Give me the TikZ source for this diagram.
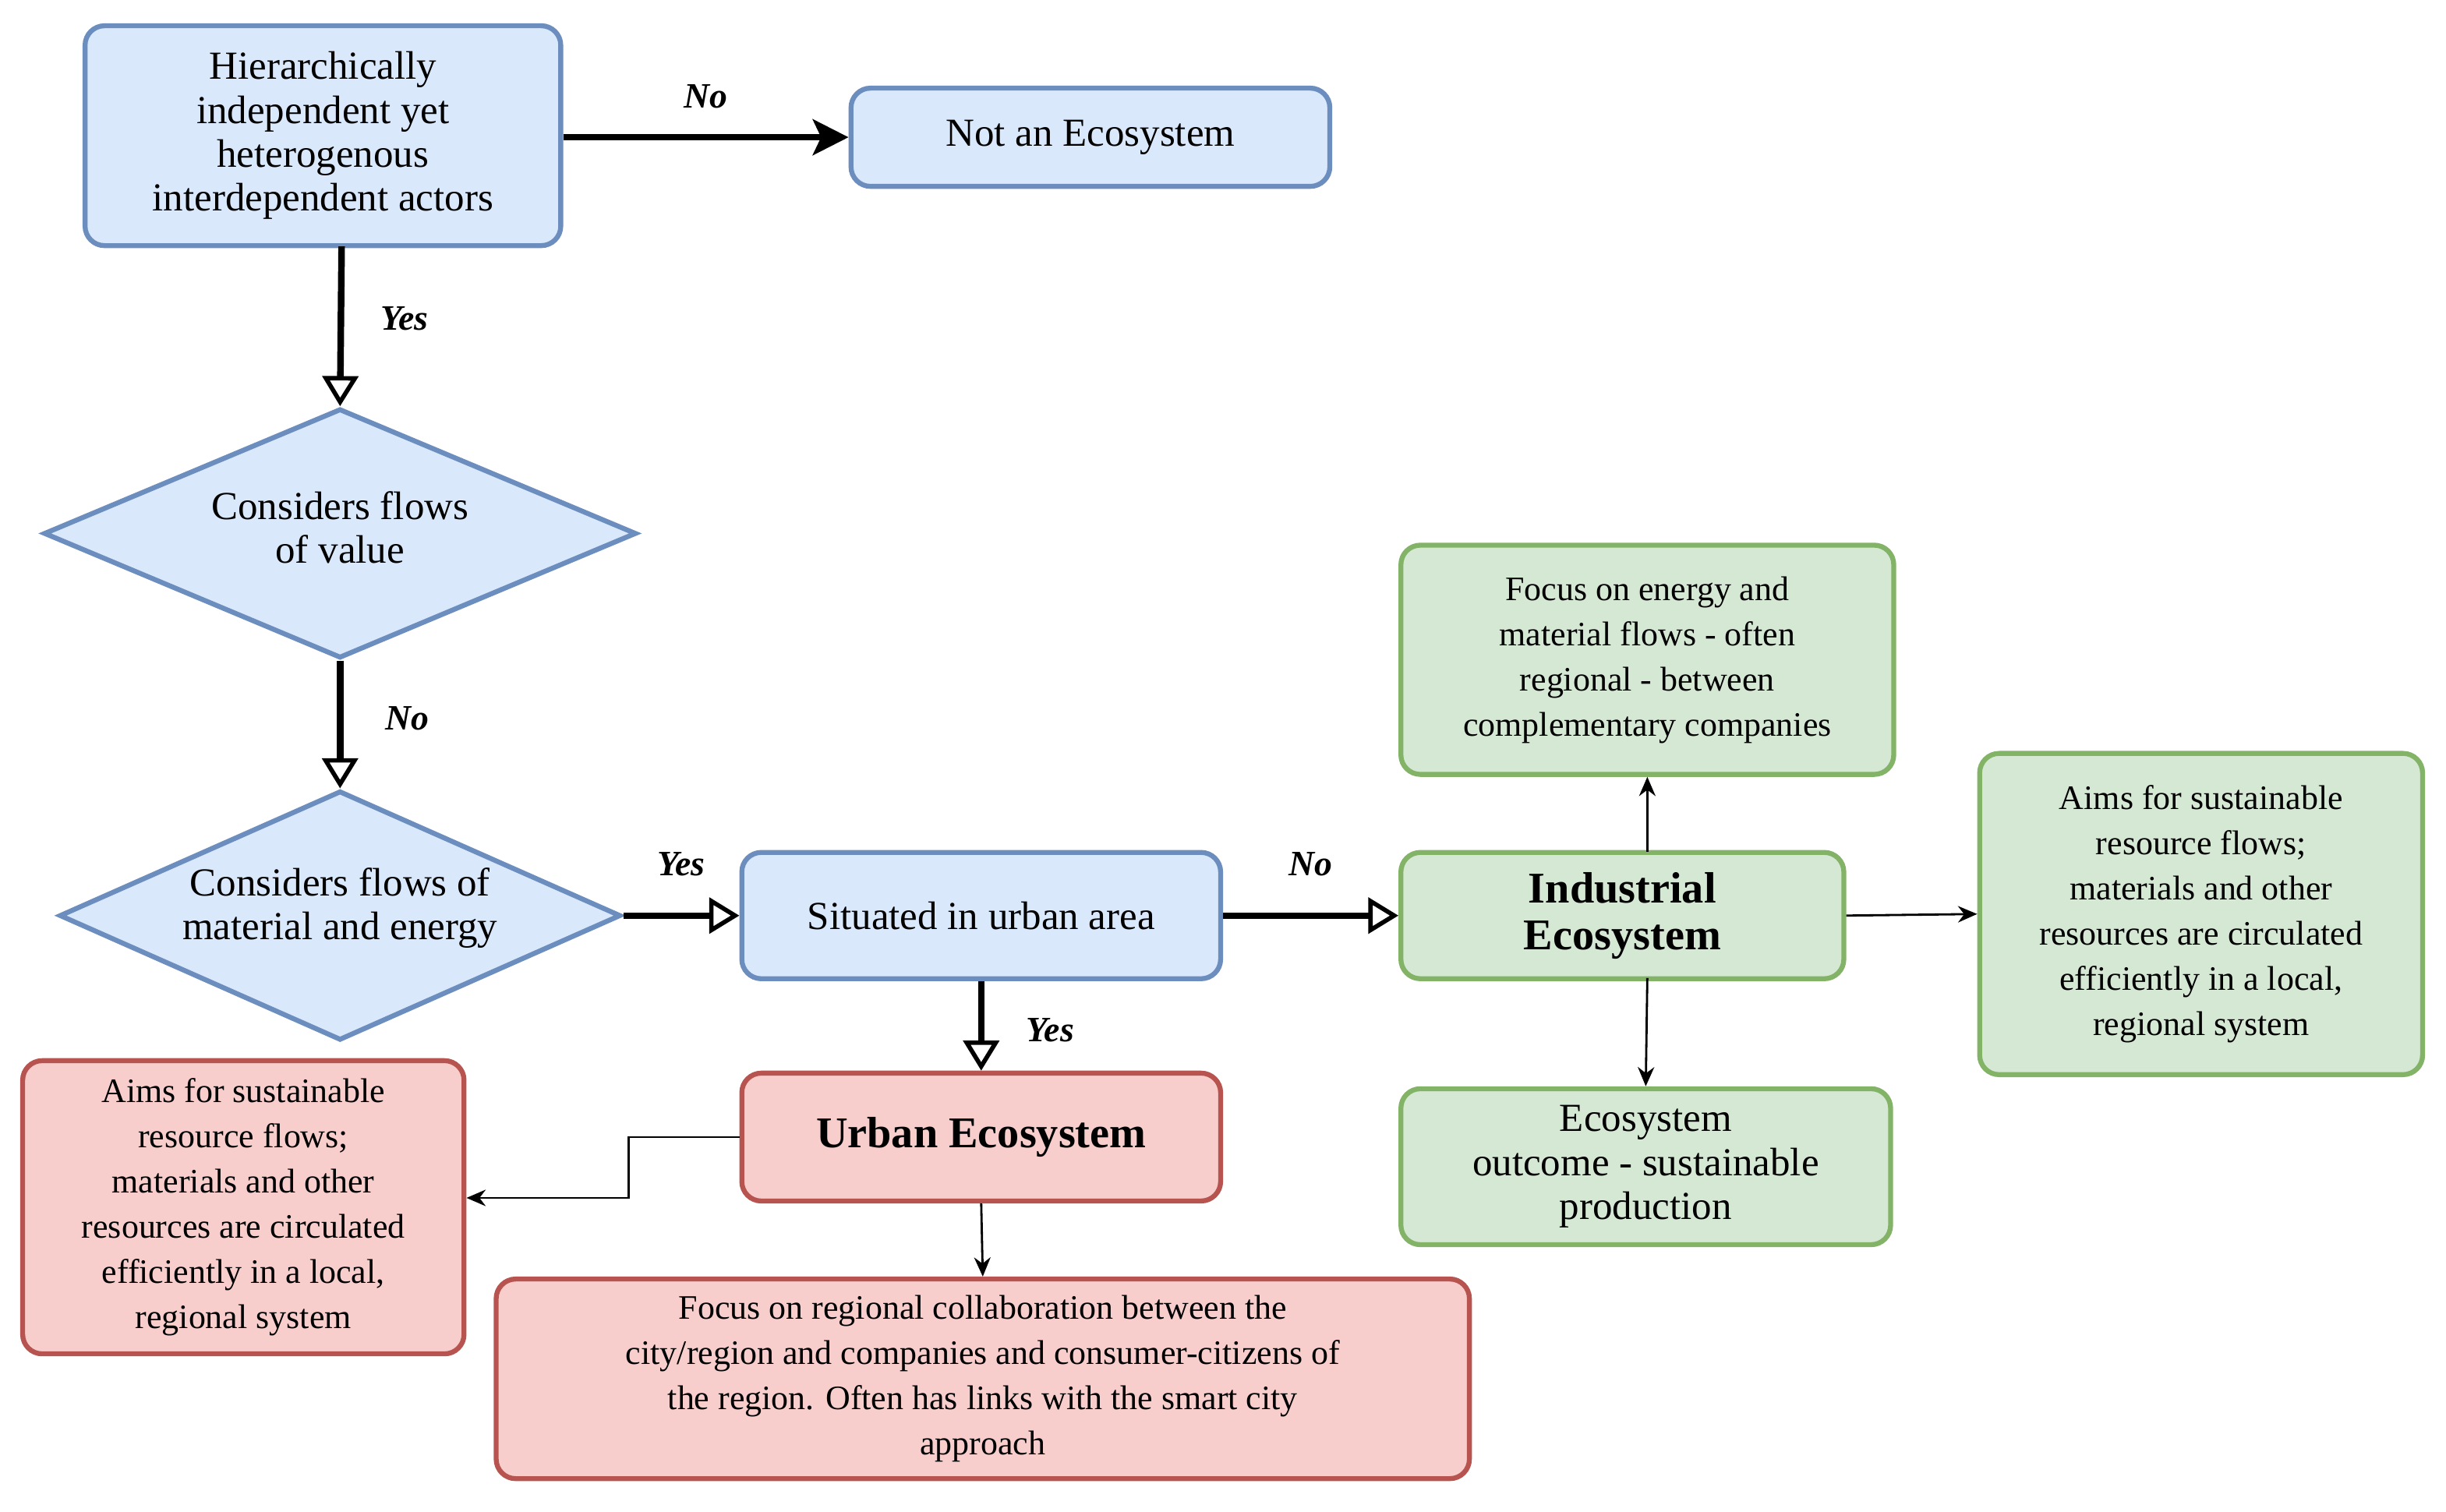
\documentclass[tikz,border=0pt]{standalone}
\usepackage{fontspec}
\setmainfont{Liberation Serif}
\usetikzlibrary{shapes.geometric,arrows.meta}
\definecolor{bfill}{HTML}{DAE8FC}\definecolor{bdraw}{HTML}{6C8EBF}
\definecolor{gfill}{HTML}{D5E8D4}\definecolor{gdraw}{HTML}{82B366}
\definecolor{rfill}{HTML}{F8CECC}\definecolor{rdraw}{HTML}{B85450}
\begin{document}
\begin{tikzpicture}[x=0.02cm,y=-0.02cm,
 box/.style={rectangle,rounded corners=0.25cm,line width=1.8pt,align=center,inner sep=1pt},
 blue/.style={box,fill=bfill,draw=bdraw},
 green/.style={box,fill=gfill,draw=gdraw},
 red/.style={box,fill=rfill,draw=rdraw},
 dia/.style={diamond,fill=bfill,draw=bdraw,line width=1.8pt,align=center,inner sep=0pt},
 big/.style={font=\fontsize{14.5}{16}\selectfont},
 small/.style={font=\fontsize{12.5}{16.5}\selectfont},
 thick arr/.style={line width=2.4pt,-{Triangle[open,fill=white,length=11pt,width=13pt,line width=1.6pt]}},
 thin arr/.style={line width=0.8pt,-{Stealth[length=7pt,width=6pt]}},
 lab/.style={font=\fontsize{13}{14}\selectfont\bfseries\itshape}]
\useasboundingbox (0,0) rectangle (1568,969);
\node[blue,big,minimum width=6.1cm,minimum height=2.82cm] (A) at (207,87) {Hierarchically\\independent yet\\heterogenous\\interdependent actors};
\node[blue,big,minimum width=6.14cm,minimum height=1.26cm] (N) at (699,88) {Not an Ecosystem};
\node[dia,big,minimum width=7.6cm,minimum height=3.2cm] (D1) at (218,342) {};
\node[big,align=center] at (218,338) {Considers flows\\of value};
\node[dia,big,minimum width=7.2cm,minimum height=3.2cm] (D2) at (218,587) {};
\node[big,align=center] at (218,582) {Considers flows of\\material and energy};
\node[blue,big,minimum width=6.14cm,minimum height=1.62cm] (U) at (629,587) {Situated in urban area};
\node[green,font=\fontsize{16}{17}\selectfont\bfseries,minimum width=5.68cm,minimum height=1.62cm] (I) at (1040,587) {Industrial\\Ecosystem};
\node[green,small,minimum width=6.32cm,minimum height=2.94cm] (F) at (1056,423) {Focus on energy and\\material flows - often\\regional - between\\complementary companies};
\node[green,small,minimum width=5.68cm,minimum height=4.12cm] (R) at (1411,586) {Aims for sustainable\\resource flows;\\materials and other\\resources are circulated\\efficiently in a local,\\regional system};
\node[green,big,minimum width=6.28cm,minimum height=2.0cm] (O) at (1055,748) {Ecosystem\\outcome - sustainable\\production};
\node[red,font=\fontsize{16}{17}\selectfont\bfseries,minimum width=6.14cm,minimum height=1.64cm] (UE) at (629,729) {Urban Ecosystem};
\node[red,small,minimum width=5.66cm,minimum height=3.76cm] (L) at (156,774) {Aims for sustainable\\resource flows;\\materials and other\\resources are circulated\\efficiently in a local,\\regional system};
\node[red,small,minimum width=12.48cm,minimum height=2.56cm] (FR) at (630,884) {Focus on regional collaboration between the\\city/region and companies and consumer-citizens of\\the region. Often has links with the smart city\\approach};
\draw[line width=2.4pt,-{Stealth[length=13pt,width=13pt,inset=3pt]}] (A.east|-N) -- (N.west) node[lab,pos=0.5,above=6pt] {No};
\draw[thick arr] (219,158) -- (D1.north) node[lab,pos=0.45,right=10pt] {Yes};
\draw[thick arr] (D1.south) -- (D2.north) node[lab,pos=0.45,right=12pt] {No};
\draw[thick arr] (D2.east) -- (U.west) node[lab,pos=0.5,above=10pt] {Yes};
\draw[thick arr] (U.east) -- (I.west) node[lab,pos=0.5,above=10pt] {No};
\draw[thick arr] (U.south) -- (UE.north) node[lab,pos=0.55,right=12pt] {Yes};
\draw[thin arr] (1056,546) -- (F.south);
\draw[thin arr] (I.east) -- (R.west);
\draw[thin arr] (1056,627) -- (O.north);
\draw[thin arr] (UE.south) -- (FR.north);
\draw[thin arr] (UE.west) -- (403,729) -- (403,768) -- (L.east|-403,768);
\end{tikzpicture}
\end{document}
